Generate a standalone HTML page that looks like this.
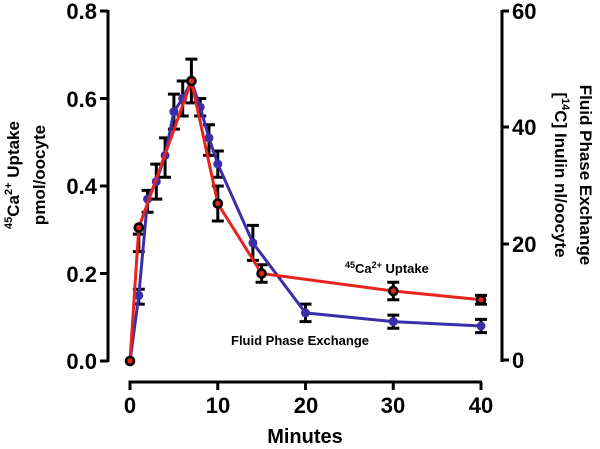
<!DOCTYPE html>
<html><head><meta charset="utf-8"><style>
html,body{margin:0;padding:0;background:#fff}
svg text{font-family:"Liberation Sans",Arial,sans-serif;font-weight:bold;fill:#000}
</style></head><body>
<svg width="600" height="444" viewBox="0 0 600 444" xmlns="http://www.w3.org/2000/svg">
<g stroke="#000" stroke-width="3" fill="none">
<line x1="108" y1="10" x2="108" y2="362"/>
<line x1="100" y1="11" x2="108" y2="11"/><line x1="100" y1="98.5" x2="108" y2="98.5"/><line x1="100" y1="186" x2="108" y2="186"/><line x1="100" y1="273.5" x2="108" y2="273.5"/><line x1="100" y1="361" x2="108" y2="361"/>
<line x1="502" y1="10" x2="502" y2="362"/>
<line x1="502" y1="11" x2="509" y2="11"/><line x1="502" y1="127" x2="509" y2="127"/><line x1="502" y1="244" x2="509" y2="244"/><line x1="502" y1="360" x2="509" y2="360"/>
<line x1="128.5" y1="382" x2="482" y2="382"/>
<line x1="130" y1="382" x2="130" y2="390"/><line x1="217.75" y1="382" x2="217.75" y2="390"/><line x1="305.5" y1="382" x2="305.5" y2="390"/><line x1="393.25" y1="382" x2="393.25" y2="390"/><line x1="481" y1="382" x2="481" y2="390"/>
</g>
<g font-size="22" text-anchor="end">
<text x="97" y="19">0.8</text><text x="97" y="107">0.6</text><text x="97" y="194">0.4</text><text x="97" y="282">0.2</text><text x="97" y="369">0.0</text>
</g>
<g font-size="22" text-anchor="start">
<text x="512" y="19">60</text><text x="512" y="135">40</text><text x="512" y="252">20</text><text x="512" y="368">0</text>
</g>
<g font-size="22" text-anchor="middle">
<text x="130" y="413">0</text><text x="218" y="413">10</text><text x="306" y="413">20</text><text x="393" y="413">30</text><text x="481" y="413">40</text>
<text x="305" y="443" font-size="20">Minutes</text>
</g>
<g font-size="17" text-anchor="middle">
<text transform="translate(19,175) rotate(-90)"><tspan font-size="11" dy="-7">45</tspan><tspan dy="7">Ca</tspan><tspan font-size="11" dy="-7">2+</tspan><tspan dy="7"> Uptake</tspan></text>
<text transform="translate(45,175) rotate(-90)">pmol/oocyte</text>
<text transform="translate(580,175) rotate(90)">Fluid Phase Exchange</text>
<text transform="translate(555,175) rotate(90)">[<tspan font-size="11" dy="-7">14</tspan><tspan dy="7">C] Inulin nl/oocyte</tspan></text>
</g>
<g font-size="13">
<text x="345" y="273"><tspan font-size="9" dy="-5">45</tspan><tspan dy="5">Ca</tspan><tspan font-size="9" dy="-5">2+</tspan><tspan dy="5"> Uptake</tspan></text>
<text x="231" y="345">Fluid Phase Exchange</text>
</g>
<g stroke="#000" stroke-width="3">
<path d="M138.8 304.1V289.3M132.8 304.1h12M132.8 289.3h12
M147.6 212.3V190.4M141.6 212.3h12M141.6 190.4h12
M156.3 199.1V164.1M150.3 199.1h12M150.3 164.1h12
M165.1 177.3V137.9M159.1 177.3h12M159.1 137.9h12
M173.9 129.1V94.1M167.9 129.1h12M167.9 94.1h12
M182.7 116V81M176.7 116h12M176.7 81h12
M200.2 116V98.5M194.2 116h12M194.2 98.5h12
M209 155.4V124.8M203 155.4h12M203 124.8h12
M217.8 177.3V151M211.8 177.3h12M211.8 151h12
M252.9 260.4V225.4M246.9 260.4h12M246.9 225.4h12
M305.5 321.6V304.1M299.5 321.6h12M299.5 304.1h12
M393.3 328.2V315.1M387.3 328.2h12M387.3 315.1h12
M481 332.6V319.4M475 332.6h12M475 319.4h12
M138.8 251.6V234.1M132.8 251.6h12M132.8 234.1h12
M191.4 102.9V59.1M185.4 102.9h12M185.4 59.1h12
M217.8 221V186M211.8 221h12M211.8 186h12
M261.6 282.2V264.8M255.6 282.2h12M255.6 264.8h12
M393.3 299.8V282.2M387.3 299.8h12M387.3 282.2h12
M481 304.1V295.4M475 304.1h12M475 295.4h12"/>
</g>
<polyline fill="none" stroke="#3a2fa8" stroke-width="3" points="130,361 138.8,295.4 147.6,199.1 156.3,181.6 165.1,155.4 173.9,111.6 182.7,98.5 191.4,81 200.2,107.3 209,137.9 217.8,164.1 252.9,242.9 305.5,312.9 393.3,321.6 481,326"/>
<g fill="#3a2fa8">
<circle cx="138.8" cy="295.4" r="4.5"/><circle cx="147.6" cy="199.1" r="4.5"/><circle cx="156.3" cy="181.6" r="4.5"/><circle cx="165.1" cy="155.4" r="4.5"/><circle cx="173.9" cy="111.6" r="4.5"/><circle cx="182.7" cy="98.5" r="4.5"/><circle cx="200.2" cy="107.3" r="4.5"/><circle cx="209" cy="137.9" r="4.5"/><circle cx="217.8" cy="164.1" r="4.5"/><circle cx="252.9" cy="242.9" r="4.5"/><circle cx="305.5" cy="312.9" r="4.5"/><circle cx="393.3" cy="321.6" r="4.5"/><circle cx="481" cy="326" r="4.5"/>
</g>
<polyline fill="none" stroke="#e8231e" stroke-width="3" points="130,361 138.8,227.6 191.4,81 217.8,203.5 261.6,273.5 393.3,291 481,299.8"/>
<g fill="#e8231e" stroke="#000" stroke-width="2.6">
<circle cx="130" cy="361" r="4"/><circle cx="138.8" cy="227.6" r="4"/><circle cx="191.4" cy="81" r="4"/><circle cx="217.8" cy="203.5" r="4"/><circle cx="261.6" cy="273.5" r="4"/><circle cx="393.3" cy="291" r="4"/><circle cx="481" cy="299.8" r="4"/>
</g>
</svg>
</body></html>
